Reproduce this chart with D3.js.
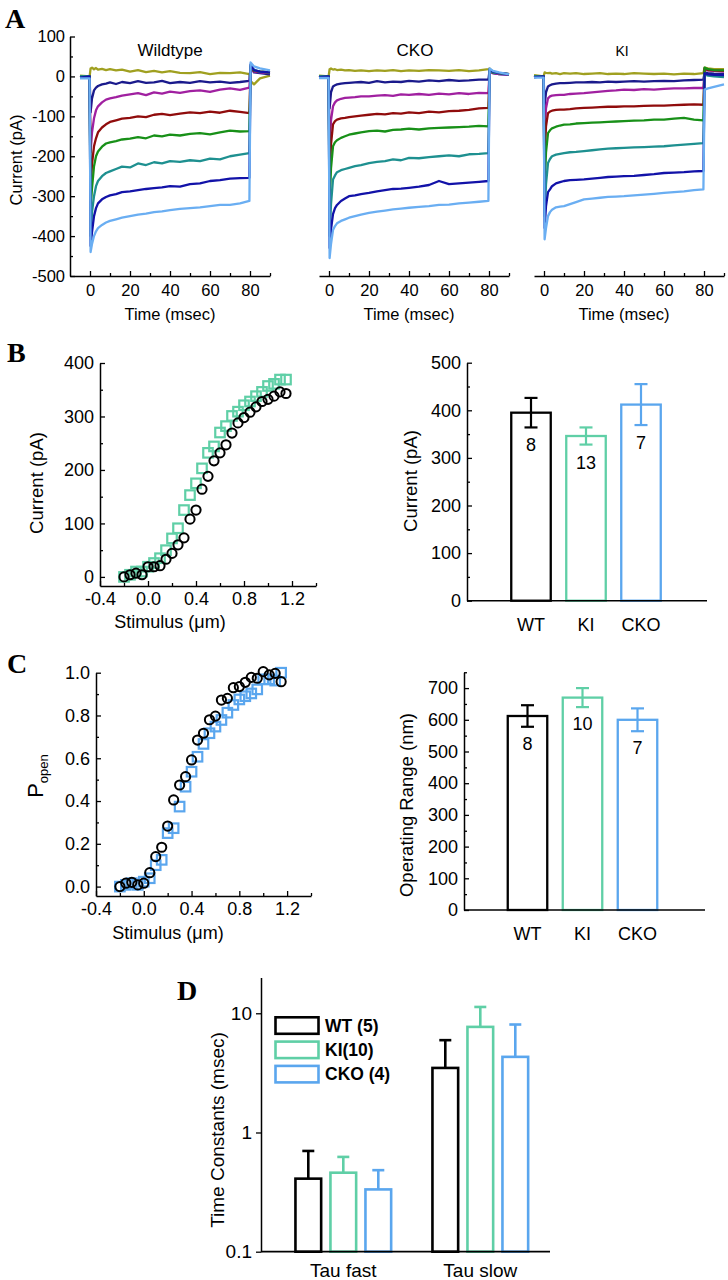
<!DOCTYPE html>
<html><head><meta charset="utf-8">
<script src="https://cdn.jsdelivr.net/npm/d3@7"></script>
<style>body{margin:0;background:#fff}</style>
</head><body><svg id="c" width="728" height="1280"></svg>
<script>
// ---------- DATA ----------
// Panel A: sampled current traces (pA) at time points (msec)
const traceTimes = [-5,-0.2,0.3,1,2,3,4,6,8,10,13,16,20,24,28,32,36,40,45,50,55,60,65,70,75,79.7,80.3,82,85,90];
const wildtypeTraces = [
 [2,0,20,22,18,21,17,19,16,18,15,17,12,16,11,14,10,13,9,8,11,6,9,8,10,6,-12,-20,-5,2],
 [-2,0,-90,-55,-35,-28,-24,-20,-18,-15,-19,-14,-17,-12,-16,-15,-11,-17,-14,-16,-12,-15,-13,-16,-14,-11,25,10,8,5],
 [0,0,-190,-140,-105,-85,-75,-65,-58,-55,-52,-48,-45,-42,-47,-40,-43,-38,-41,-37,-35,-39,-33,-30,-34,-28,20,12,10,8],
 [-3,0,-280,-220,-175,-155,-140,-128,-120,-114,-110,-106,-104,-100,-102,-96,-94,-97,-93,-90,-92,-88,-91,-86,-89,-92,22,14,12,10],
 [0,0,-330,-280,-225,-200,-188,-176,-168,-165,-162,-158,-156,-152,-155,-148,-150,-146,-148,-144,-142,-145,-140,-136,-138,-137,25,15,12,10],
 [0,0,-400,-340,-300,-275,-262,-250,-242,-238,-232,-226,-228,-218,-222,-215,-218,-212,-214,-210,-212,-206,-208,-200,-196,-192,28,16,12,10],
 [-3,0,-425,-390,-350,-330,-318,-308,-302,-298,-295,-290,-288,-285,-282,-280,-278,-275,-276,-270,-268,-262,-260,-256,-255,-254,30,16,12,10],
 [-5,-5,-440,-420,-400,-388,-380,-372,-366,-362,-358,-354,-350,-346,-344,-340,-338,-335,-332,-330,-328,-325,-322,-322,-318,-312,35,25,20,15]
];
const ckoTraces = [
 [2,0,18,20,17,18,16,17,15,16,14,15,13,15,14,16,13,15,14,16,15,14,16,13,15,18,20,10,8,5],
 [-2,0,-80,-40,-25,-22,-20,-18,-17,-16,-15,-14,-16,-12,-15,-13,-14,-11,-13,-10,-12,-9,-11,-10,-8,-8,15,8,6,4],
 [0,0,-180,-110,-75,-65,-60,-56,-54,-53,-52,-50,-50,-48,-47,-49,-45,-46,-44,-46,-43,-45,-42,-44,-41,-42,12,8,6,5],
 [-2,0,-260,-170,-120,-112,-108,-105,-104,-102,-100,-98,-96,-94,-95,-92,-93,-90,-92,-88,-90,-87,-86,-84,-80,-79,14,10,8,6],
 [0,0,-320,-230,-175,-165,-160,-154,-150,-146,-143,-140,-137,-136,-138,-134,-133,-131,-133,-130,-129,-128,-127,-126,-124,-125,15,10,8,6],
 [0,0,-400,-320,-258,-248,-240,-235,-232,-229,-225,-222,-217,-214,-212,-208,-210,-204,-205,-202,-200,-198,-200,-195,-194,-192,16,10,8,6],
 [-2,0,-430,-383,-345,-330,-322,-312,-306,-300,-298,-295,-292,-288,-285,-282,-281,-279,-276,-272,-262,-270,-268,-266,-264,-262,18,12,9,6],
 [-4,-4,-455,-420,-385,-375,-368,-362,-358,-354,-350,-346,-342,-339,-336,-333,-331,-329,-327,-325,-322,-321,-318,-316,-314,-312,20,14,10,5]
];
const kiTraces = [
 [3,0,10,9,8,9,7,8,6,8,7,8,6,7,8,6,7,6,8,7,6,7,5,7,6,8,22,20,18,18],
 [-2,0,-75,-40,-25,-22,-20,-18,-17,-17,-16,-15,-15,-14,-15,-13,-14,-13,-12,-13,-12,-11,-12,-10,-9,-8,10,8,7,6],
 [0,0,-140,-80,-55,-50,-48,-47,-46,-46,-44,-43,-42,-40,-38,-36,-35,-33,-34,-32,-33,-31,-30,-30,-29,-29,18,15,14,12],
 [-2,0,-200,-125,-92,-88,-86,-84,-83,-83,-82,-80,-79,-78,-77,-76,-76,-75,-75,-74,-73,-73,-72,-71,-70,-71,20,16,15,14],
 [0,0,-280,-190,-142,-135,-130,-126,-123,-121,-120,-118,-117,-116,-115,-114,-113,-112,-111,-110,-108,-108,-106,-104,-108,-110,22,18,16,15],
 [0,0,-350,-270,-217,-207,-200,-196,-194,-192,-190,-189,-187,-185,-183,-181,-180,-179,-178,-177,-176,-175,-173,-171,-169,-167,5,2,0,-2],
 [-2,0,-380,-325,-290,-283,-275,-268,-265,-262,-260,-259,-258,-256,-254,-252,-251,-250,-249,-247,-245,-242,-241,-240,-238,-237,8,5,4,3],
 [-3,-3,-408,-380,-350,-340,-334,-328,-326,-325,-320,-315,-308,-306,-304,-302,-301,-300,-298,-296,-294,-292,-290,-288,-285,-283,-33,-30,-26,-20]
];
const panelATitles = ["Wildtype","CKO","KI"];
const aYTicks = [100,0,-100,-200,-300,-400,-500];
const aXTicks = [0,20,40,60,80];

// Panel B/C: stimulus-response
const stimulus = [-0.2,-0.15,-0.1,-0.05,0,0.05,0.1,0.15,0.2,0.25,0.3,0.35,0.4,0.45,0.5,0.55,0.6,0.65,0.7,0.75,0.8,0.85,0.9,0.95,1.0,1.05,1.1,1.15];
const bCurrentWT = [0,4,7,4,19,19,21,33,44,60,73,108,125,164,188,217,232,247,269,288,298,308,318,328,332,338,346,343];
const bCurrentKI = [0,4,10,10,19,26,35,50,72,91,125,153,175,203,232,244,270,282,301,309,321,328,338,346,357,361,369,369];
const cPopenWT = [0,0.016,0.02,0.008,0.016,0.065,0.14,0.184,0.283,0.405,0.475,0.514,0.592,0.685,0.717,0.78,0.797,0.872,0.88,0.93,0.935,0.955,0.978,0.974,1.005,0.99,0.997,0.958];
const cPopenCKO = [0,0.008,0.016,0.008,0.023,0.039,0.10,0.125,0.25,0.273,0.374,0.467,0.537,0.607,0.667,0.717,0.748,0.779,0.813,0.849,0.875,0.89,0.903,0.922,0.969,0.969,0.963,1.0];
const stimTicks = [-0.4,0,0.4,0.8,1.2];

// Bar panels
const genotypes = ["WT","KI","CKO"];
const bCurrentMean = [395,346,412];
const bCurrentErr = [31,18,43];
const bCurrentN = ["8","13","7"];
const cRangeMean = [612,670,600];
const cRangeErr = [34,30,36];
const cRangeN = ["8","10","7"];

// Panel D
const tauGroups = ["Tau fast","Tau slow"];
const tauGenotypes = ["WT","KI","CKO"];
const tauLegend = ["WT (5)","KI(10)","CKO (4)"];
const tauMean = [[0.41,0.46,0.333],[3.48,7.69,4.31]];   // [group][genotype]
const tauErrTop = [[0.70,0.624,0.483],[5.95,11.3,8.05]];

// ---------- STYLE ----------
const traceColors = ["#a0a020","#1a1a8c","#a020a0","#900c0c","#189018","#1e9090","#1212a8","#6aaef2"];
const genoColor = {WT:"#000000", KI:"#5fcfa6", CKO:"#5aa6ee"};

const svg = d3.select("#c");
const FONT = '"Liberation Sans",Arial,sans-serif';
const SERIF = '"Liberation Serif","Times New Roman",serif';

function styleAxis(g, fs){
  g.selectAll("path.domain").attr("stroke","#000").attr("stroke-width",1.5);
  g.selectAll(".tick line").attr("stroke","#000").attr("stroke-width",1.3);
  g.selectAll("text").attr("font-size",fs).style("font-family",FONT).attr("fill","#000");
}
function leftAxis(x, scale, major, minor, fmt, fs, inward, pad){
  const s = inward ? -5 : 5;
  const g = svg.append("g").attr("transform",`translate(${x},0)`);
  g.call(d3.axisLeft(scale).tickValues(major).tickFormat(fmt).tickSize(s).tickSizeOuter(0).tickPadding(pad));
  if(minor){ const m = svg.append("g").attr("transform",`translate(${x},0)`);
    m.call(d3.axisLeft(scale).tickValues(minor).tickFormat("").tickSize(inward?-3:3).tickSizeOuter(0));
    m.select("path.domain").remove(); styleAxis(m,fs);}
  styleAxis(g,fs); return g;
}
function bottomAxis(y, scale, major, minor, fmt, fs, pad){
  const g = svg.append("g").attr("transform",`translate(0,${y})`);
  g.call(d3.axisBottom(scale).tickValues(major).tickFormat(fmt).tickSize(-5).tickSizeOuter(0).tickPadding(pad));
  if(minor){ const m = svg.append("g").attr("transform",`translate(0,${y})`);
    m.call(d3.axisBottom(scale).tickValues(minor).tickFormat("").tickSize(-3).tickSizeOuter(0));
    m.select("path.domain").remove(); styleAxis(m,fs);}
  styleAxis(g,fs); return g;
}
function text(x,y,s,fs,opts={}){
  const t = svg.append("text").attr("x",x).attr("y",y).attr("font-size",fs).text(s).attr("fill","#000")
    .attr("text-anchor",opts.anchor||"middle").style("font-family",opts.family||FONT);
  if(opts.weight) t.attr("font-weight",opts.weight);
  if(opts.rotate) t.attr("transform",`rotate(-90,${x},${y})`);
  return t;
}
function panelLabel(x,y,s){ text(x,y,s,28,{anchor:"start",family:SERIF,weight:"bold"}); }

// ---------- PANEL A ----------
const yA = d3.scaleLinear().domain([-500,100]).range([276,36.5]);
const xAs = [
  d3.scaleLinear().domain([-10,90]).range([70,270]),
  d3.scaleLinear().domain([-5,90]).range([319,509]),
  d3.scaleLinear().domain([-5,90]).range([534,724])
];
const aTraceSets = [wildtypeTraces, ckoTraces, kiTraces];
const titleX = [170,415,622], titleFs = [17,17,14];
xAs.forEach((xs,i)=>{
  const line = d3.line().x((d,j)=>xs(traceTimes[j])).y(d=>yA(d));
  aTraceSets[i].forEach((tr,k)=>{
    svg.append("path").datum(tr).attr("d",line).attr("fill","none")
      .attr("stroke",traceColors[k]).attr("stroke-width",2.3).attr("stroke-linejoin","round");
  });
  bottomAxis(276, xs, aXTicks, [10,30,50,70,90].filter(v=>v<=xs.domain()[1]), d=>d, 16.5, 8);
  text(titleX[i],56,panelATitles[i],titleFs[i]);
  text((xs(0)+xs(80))/2,320,"Time (msec)",16.5);
});
leftAxis(70, yA, aYTicks, [50,-50,-150,-250,-350,-450], d=>String(d), 16.5, true, 5);
text(22,160,"Current (pA)",16.5,{rotate:true});
panelLabel(5,28,"A");

// ---------- PANEL B LEFT ----------
const xB = d3.scaleLinear().domain([-0.4,1.4]).range([100,316]);
const yB = d3.scaleLinear().domain([-17,400]).range([586,363]);
leftAxis(100, yB, [0,100,200,300,400], [50,150,250,350], d=>d, 18, true, 6);
bottomAxis(586, xB, stimTicks, [-0.2,0.2,0.6,1.0,1.4], d=>d.toFixed(1), 18, 6);
const sq = 9.5;
svg.append("g").selectAll("rect").data(bCurrentKI).join("rect")
  .attr("x",(d,i)=>xB(stimulus[i])-sq/2).attr("y",d=>yB(d)-sq/2).attr("width",sq).attr("height",sq)
  .attr("fill","none").attr("stroke",genoColor.KI).attr("stroke-width",2.2);
svg.append("g").selectAll("circle").data(bCurrentWT).join("circle")
  .attr("cx",(d,i)=>xB(stimulus[i])).attr("cy",d=>yB(d)).attr("r",4.6)
  .attr("fill","none").attr("stroke","#000").attr("stroke-width",2);
text(43,483,"Current (pA)",18.5,{rotate:true});
text(170,628,"Stimulus (μm)",18);
panelLabel(7,362,"B");

// ---------- BAR helper ----------
function barPanel(yScale, yMajor, yMinor, axisX, axisY, axisEnd, centers, means, errs, ns, labOff, ylabel, ylx, yly, catY, fs){
  const xp = d3.scalePoint().domain(genotypes).range(centers);
  const bw = 39.5;
  genotypes.forEach((g,i)=>{
    const c = xp(g), col = genoColor[g];
    svg.append("rect").attr("x",c-bw/2).attr("y",yScale(means[i])).attr("width",bw)
      .attr("height",yScale(0)-yScale(means[i])).attr("fill","none").attr("stroke",col).attr("stroke-width",2.3);
    const yt = yScale(means[i]+errs[i]), yb = yScale(means[i]-errs[i]);
    svg.append("line").attr("x1",c).attr("x2",c).attr("y1",yt).attr("y2",yb).attr("stroke",col).attr("stroke-width",2.2);
    [yt,yb].forEach(yy=>svg.append("line").attr("x1",c-6.5).attr("x2",c+6.5).attr("y1",yy).attr("y2",yy).attr("stroke",col).attr("stroke-width",2.2));
    text(c, yb+labOff, ns[i], fs);
    text(c, catY, g, fs);
  });
  svg.append("line").attr("x1",axisX).attr("x2",axisEnd).attr("y1",axisY).attr("y2",axisY).attr("stroke","#000").attr("stroke-width",1.5);
  leftAxis(axisX, yScale, yMajor, yMinor, d=>d, fs, true, 6);
  text(ylx,yly,ylabel,fs+0.5,{rotate:true});
}
const yBr = d3.scaleLinear().domain([0,500]).range([600.7,362.7]);
barPanel(yBr,[0,100,200,300,400,500],[50,150,250,350,450],467,600.7,707,[531,641],
  bCurrentMean,bCurrentErr,bCurrentN,24,"Current (pA)",417,481,631,18);

// ---------- PANEL C LEFT ----------
const xC = d3.scaleLinear().domain([-0.4,1.4]).range([96,311]);
const yC = d3.scaleLinear().domain([-0.044,1.0]).range([896,672.7]);
leftAxis(96, yC, [0,0.2,0.4,0.6,0.8,1.0], [0.1,0.3,0.5,0.7,0.9], d=>d.toFixed(1), 18, true, 6);
bottomAxis(896, xC, stimTicks, [-0.2,0.2,0.6,1.0,1.4], d=>d.toFixed(1), 18, 6);
svg.append("g").selectAll("rect").data(cPopenCKO).join("rect")
  .attr("x",(d,i)=>xC(stimulus[i])-sq/2).attr("y",d=>yC(d)-sq/2).attr("width",sq).attr("height",sq)
  .attr("fill","none").attr("stroke",genoColor.CKO).attr("stroke-width",2.2);
svg.append("g").selectAll("circle").data(cPopenWT).join("circle")
  .attr("cx",(d,i)=>xC(stimulus[i])).attr("cy",d=>yC(d)).attr("r",4.6)
  .attr("fill","none").attr("stroke","#000").attr("stroke-width",2);
{
  const t = svg.append("text").attr("x",43).attr("y",776).attr("text-anchor","middle").attr("fill","#000")
    .style("font-family",FONT).attr("transform","rotate(-90,43,776)");
  t.append("tspan").attr("font-size",22).text("P");
  t.append("tspan").attr("font-size",13).attr("dy",5).text("open");
}
text(168,939,"Stimulus (μm)",18);
panelLabel(7,673,"C");

// ---------- PANEL C RIGHT ----------
const yCr = d3.scaleLinear().domain([0,750]).range([910,672.25]);
barPanel(yCr,[0,100,200,300,400,500,600,700],[50,150,250,350,450,550,650,750],464,910,705,[527.5,637.5],
  cRangeMean,cRangeErr,cRangeN,23,"Operating Range (nm)",413,805,940,18);

// ---------- PANEL D ----------
const yD = d3.scaleLog().domain([0.1,20]).range([1251.7,977.4]);
const xDg = d3.scalePoint().domain(tauGroups).range([343.3,480.3]);
const xDs = d3.scalePoint().domain(tauGenotypes).range([-35,35]);
const bwD = 25.7;
tauGroups.forEach((grp,gi)=>{
  tauGenotypes.forEach((g,k)=>{
    const c = xDg(grp)+xDs(g), col = genoColor[g];
    svg.append("rect").attr("x",c-bwD/2).attr("y",yD(tauMean[gi][k])).attr("width",bwD)
      .attr("height",yD(0.1)-yD(tauMean[gi][k])).attr("fill","none").attr("stroke",col).attr("stroke-width",2.6);
    svg.append("line").attr("x1",c).attr("x2",c).attr("y1",yD(tauMean[gi][k])).attr("y2",yD(tauErrTop[gi][k])).attr("stroke",col).attr("stroke-width",2.6);
    svg.append("line").attr("x1",c-6).attr("x2",c+6).attr("y1",yD(tauErrTop[gi][k])).attr("y2",yD(tauErrTop[gi][k])).attr("stroke",col).attr("stroke-width",2.6);
  });
  text(xDg(grp),1277,grp,19);
});
svg.append("line").attr("x1",261).attr("x2",550).attr("y1",1251.7).attr("y2",1251.7).attr("stroke","#000").attr("stroke-width",1.8);
leftAxis(261, yD, [0.1,1,10], null, d=>String(d), 19, false, 4);
text(224,1130,"Time Constants (msec)",19,{rotate:true});
tauGenotypes.forEach((g,k)=>{
  const yy = 1017.3 + k*24.3;
  svg.append("rect").attr("x",275.5).attr("y",yy).attr("width",43).attr("height",16.5)
    .attr("fill","none").attr("stroke",genoColor[g]).attr("stroke-width",2.6);
  text(325,yy+14.5,tauLegend[k],17.5,{anchor:"start",weight:"bold"});
});
panelLabel(177,1000,"D");
</script></body></html>
